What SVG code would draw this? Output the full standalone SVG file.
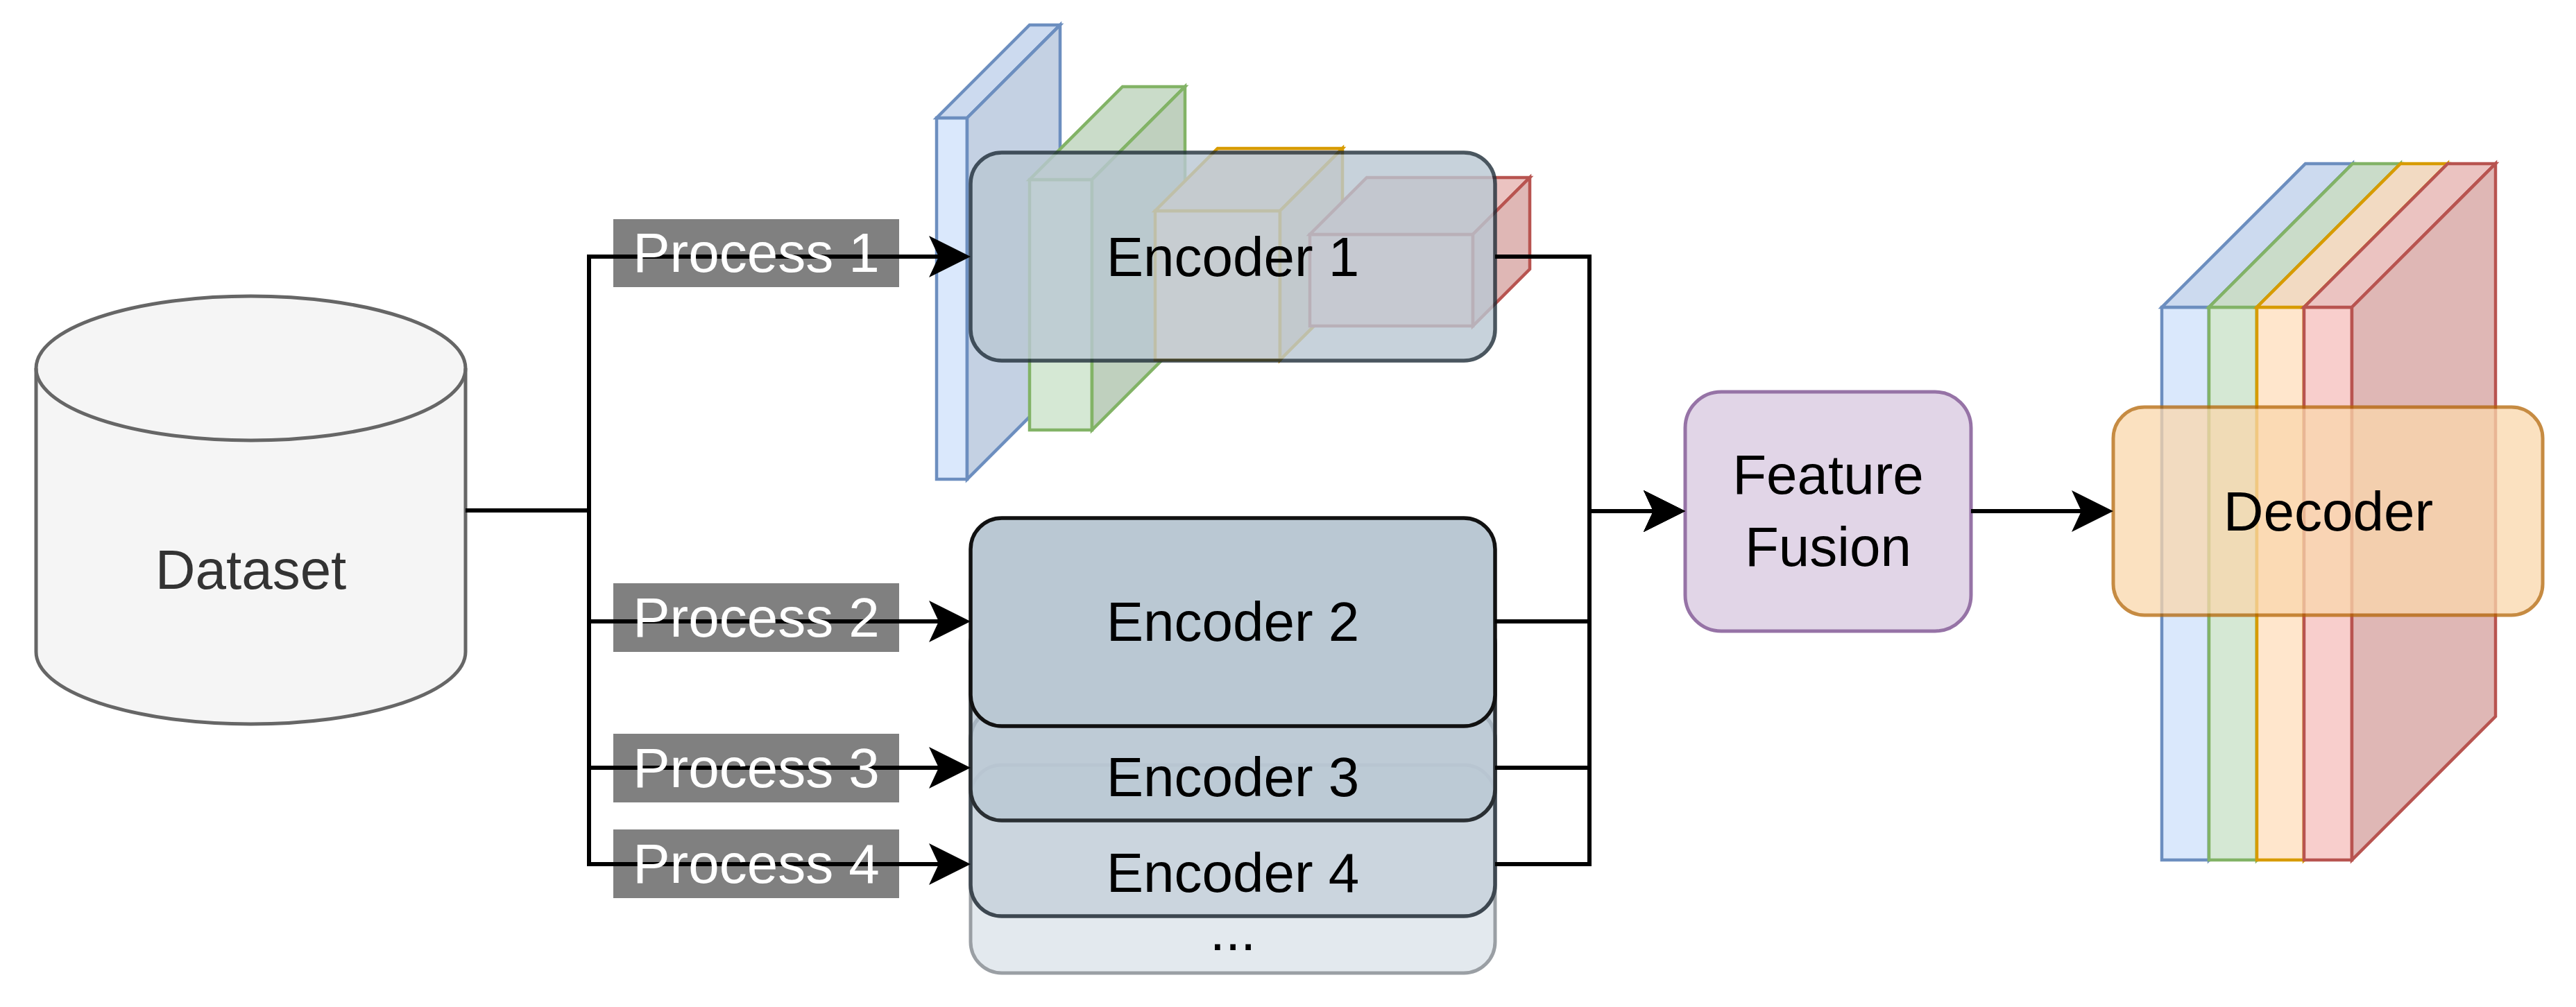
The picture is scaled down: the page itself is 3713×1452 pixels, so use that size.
<svg xmlns="http://www.w3.org/2000/svg" width="3713" height="1452" viewBox="0 0 3713 1452">
<defs>
<style>
text { font-family: "Liberation Sans", Arial, Helvetica, sans-serif; font-size: 80px; text-anchor: middle; }
.t { fill: #000000; }
.lbl { fill: #ffffff; }
.lblbg { fill: #808080; }
.ln { fill: none; stroke: #000000; stroke-width: 6; stroke-linejoin: miter; }
.slab { stroke-width: 4.5; stroke-linejoin: miter; }
.b { stroke: #6c8ebf; } .bf { fill: #dae8fc; } .bt { fill: #ccdaef; } .bs { fill: #c4d1e3; }
.g { stroke: #82b366; } .gf { fill: #d5e8d4; } .gt { fill: #cadcc9; } .gs { fill: #bfd0be; }
.o { stroke: #d79b00; } .of { fill: #ffe6cc; } .ot { fill: #f2dac2; } .os { fill: #e5cfb8; }
.r { stroke: #b85450; } .rf { fill: #f8cecc; } .rt { fill: #ebc3c1; } .rs { fill: #dfb7b5; }
.enc { fill: #bac8d3; stroke-width: 5.5; }
</style>
<marker id="arrow" markerUnits="userSpaceOnUse" markerWidth="60" markerHeight="60" refX="14" refY="30" orient="auto" overflow="visible">
<path d="M0,0 L60,30 L0,60 L14,30 Z" fill="#000000"/>
</marker>
</defs>
<rect x="0" y="0" width="3713" height="1452" fill="#ffffff"/>

<g id="dataset">
<path d="M52,531 A309.5,104 0 0 1 671,531 L671,940 A309.5,104 0 0 1 52,940 Z" fill="#f5f5f5" stroke="#666666" stroke-width="5"/>
<path d="M52,531 A309.5,104 0 0 0 671,531" fill="none" stroke="#666666" stroke-width="5"/>
<text x="361.5" y="849" fill="#333333">Dataset</text>
</g>

<g id="encoder-1">
<g class="slab b">
<rect class="bf" x="1350" y="170" width="44" height="521"/>
<polygon class="bt" points="1350,170 1394,170 1528,36 1484,36"/>
<polygon class="bs" points="1394,170 1528,36 1528,557 1394,691"/>
</g>
<g class="slab g">
<rect class="gf" x="1484" y="259" width="90" height="361"/>
<polygon class="gt" points="1484,259 1574,259 1708,125 1618,125"/>
<polygon class="gs" points="1574,259 1708,125 1708,486 1574,620"/>
</g>
<g class="slab o">
<rect class="of" x="1665" y="304" width="180" height="215"/>
<polygon class="ot" points="1665,304 1845,304 1935,214 1755,214"/>
<polygon class="os" points="1845,304 1935,214 1935,429 1845,519"/>
</g>
<g class="slab r">
<rect class="rf" x="1888" y="338" width="235" height="132"/>
<polygon class="rt" points="1888,338 2123,338 2205,256 1970,256"/>
<polygon class="rs" points="2123,338 2205,256 2205,388 2123,470"/>
</g>
<rect class="enc" x="1399" y="220" width="756" height="300" rx="45" ry="45" stroke="#1e2d38" opacity="0.8"/>
<text class="t" x="1777" y="398">Encoder 1</text>
</g>

<g id="encoder-more">
<rect x="1399" y="1103" width="756" height="300" rx="45" ry="45" fill="#e3e9ee" stroke="#9a9fa4" stroke-width="5"/>
<text class="t" x="1777" y="1370">...</text>
</g>

<g id="encoder-4">
<rect class="enc" x="1399" y="1021" width="756" height="300" rx="45" ry="45" fill-opacity="0.6" stroke="#3d4750"/>
<text class="t" x="1777" y="1286">Encoder 4</text>
</g>

<g id="encoder-3">
<rect class="enc" x="1399" y="883" width="756" height="300" rx="45" ry="45" fill-opacity="0.85" stroke="#2a2f33"/>
<text class="t" x="1777" y="1148">Encoder 3</text>
</g>

<g id="encoder-2">
<rect class="enc" x="1399" y="747" width="756" height="300" rx="45" ry="45" stroke="#111111"/>
<text class="t" x="1777" y="924">Encoder 2</text>
</g>

<g id="feature-fusion">
<rect x="2429" y="565" width="412" height="345" rx="52" ry="52" fill="#e1d5e7" stroke="#9673a6" stroke-width="5"/>
<text class="t" x="2635" y="712">Feature</text>
<text class="t" x="2635" y="816">Fusion</text>
</g>

<g id="decoder">
<g class="slab b">
<rect class="bf" x="3116" y="443" width="68" height="797"/>
<polygon class="bt" points="3116,443 3184,443 3391,236 3323,236"/>
<polygon class="bs" points="3184,443 3391,236 3391,1033 3184,1240"/>
</g>
<g class="slab g">
<rect class="gf" x="3184" y="443" width="69" height="797"/>
<polygon class="gt" points="3184,443 3253,443 3460,236 3391,236"/>
<polygon class="gs" points="3253,443 3460,236 3460,1033 3253,1240"/>
</g>
<g class="slab o">
<rect class="of" x="3253" y="443" width="68" height="797"/>
<polygon class="ot" points="3253,443 3321,443 3528,236 3460,236"/>
<polygon class="os" points="3321,443 3528,236 3528,1033 3321,1240"/>
</g>
<g class="slab r">
<rect class="rf" x="3321" y="443" width="69" height="797"/>
<polygon class="rt" points="3321,443 3390,443 3597,236 3528,236"/>
<polygon class="rs" points="3390,443 3597,236 3597,1033 3390,1240"/>
</g>
<rect x="3046" y="587" width="619" height="300" rx="45" ry="45" fill="#fad7ac" stroke="#b46504" stroke-width="5" opacity="0.75"/>
<text class="t" x="3356" y="765">Decoder</text>
</g>

<g id="connectors">
<rect class="lblbg" x="884" y="316" width="412" height="98"/>
<rect class="lblbg" x="884" y="841" width="412" height="99"/>
<rect class="lblbg" x="884" y="1058" width="412" height="99"/>
<rect class="lblbg" x="884" y="1196" width="412" height="99"/>
<path class="ln" d="M671,736 H849" stroke-width="8"/>
<path class="ln" d="M671,736 H849 V370 H1353" marker-end="url(#arrow)"/>
<path class="ln" d="M671,736 H849 V896 H1353" marker-end="url(#arrow)"/>
<path class="ln" d="M671,736 H849 V1107 H1353" marker-end="url(#arrow)"/>
<path class="ln" d="M671,736 H849 V1246 H1353" marker-end="url(#arrow)"/>
<path class="ln" d="M2155,370 H2291 V737 H2383" marker-end="url(#arrow)"/>
<path class="ln" d="M2155,896 H2291 V737 H2383" marker-end="url(#arrow)"/>
<path class="ln" d="M2155,1107 H2291 V737 H2383" marker-end="url(#arrow)"/>
<path class="ln" d="M2155,1246 H2291 V737 H2383" marker-end="url(#arrow)"/>
<path class="ln" d="M2291,737 H2383" stroke-width="8"/>
<path class="ln" d="M2841,737 H3000" marker-end="url(#arrow)"/>
<text class="lbl" x="1090" y="392">Process 1</text>
<text class="lbl" x="1090" y="918">Process 2</text>
<text class="lbl" x="1090" y="1135">Process 3</text>
<text class="lbl" x="1090" y="1273">Process 4</text>
</g>
</svg>
